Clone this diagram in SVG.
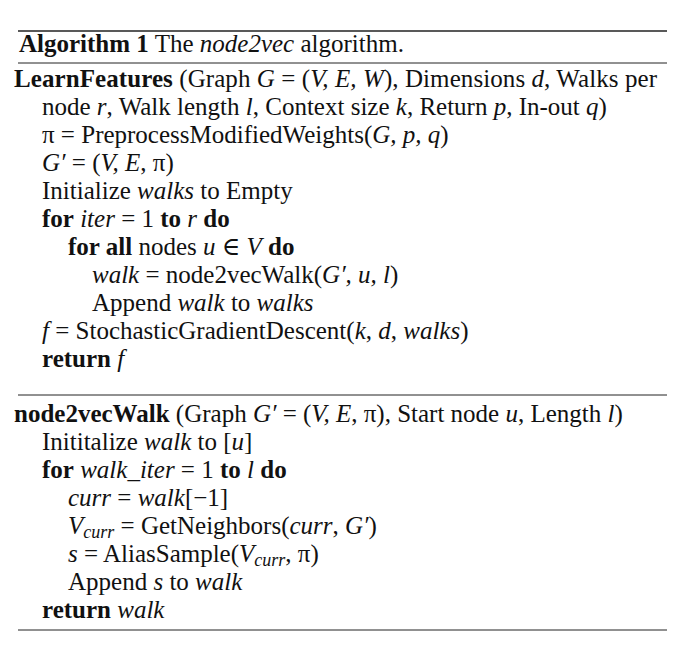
<svg xmlns="http://www.w3.org/2000/svg" width="685" height="659" viewBox="0 0 685 659">
<style>
text{font-family:"Liberation Serif","Times New Roman","DejaVu Serif",serif;font-size:25px;fill:#111}
.b{font-weight:bold}.i{font-style:italic}
line{stroke:#222}
</style>
<rect width="685" height="659" fill="#fff"/>
<line x1="18" y1="31" x2="667" y2="31" stroke-width="1.6"/>
<line x1="18" y1="63" x2="667" y2="63" stroke-width="1"/>
<line x1="18" y1="395" x2="667" y2="395" stroke-width="1"/>
<line x1="18" y1="630" x2="667" y2="630" stroke-width="1"/>
<text x="19" y="52" font-size="22.5"><tspan class="b">Algorithm 1</tspan> The <tspan class="i">node2vec</tspan> algorithm.</text>
<text x="14" y="87" textLength="643" lengthAdjust="spacing"><tspan class="b">LearnFeatures</tspan> (Graph <tspan class="i">G</tspan> = (<tspan class="i">V, E, W</tspan>), Dimensions <tspan class="i">d</tspan>, Walks per</text>
<text x="42" y="115">node <tspan class="i">r</tspan>, Walk length <tspan class="i">l</tspan>, Context size <tspan class="i">k</tspan>, Return <tspan class="i">p</tspan>, In-out <tspan class="i">q</tspan>)</text>
<text x="42" y="143">π = PreprocessModifiedWeights(<tspan class="i">G, p, q</tspan>)</text>
<text x="42" y="171"><tspan class="i">G′</tspan> = (<tspan class="i">V, E</tspan>, π)</text>
<text x="42" y="199">Initialize <tspan class="i">walks</tspan> to Empty</text>
<text x="42" y="227"><tspan class="b">for</tspan> <tspan class="i">iter</tspan> = 1 <tspan class="b">to</tspan> <tspan class="i">r</tspan> <tspan class="b">do</tspan></text>
<text x="68" y="255"><tspan class="b">for all</tspan> nodes <tspan class="i">u</tspan> ∈ <tspan class="i">V</tspan> <tspan class="b">do</tspan></text>
<text x="92" y="283"><tspan class="i">walk</tspan> = node2vecWalk(<tspan class="i">G′, u, l</tspan>)</text>
<text x="92" y="311">Append <tspan class="i">walk</tspan> to <tspan class="i">walks</tspan></text>
<text x="42" y="339"><tspan class="i">f</tspan> = StochasticGradientDescent(<tspan class="i">k</tspan>, <tspan class="i">d</tspan>, <tspan class="i">walks</tspan>)</text>
<text x="42" y="367"><tspan class="b">return</tspan> <tspan class="i">f</tspan></text>
<text x="14" y="422"><tspan class="b">node2vecWalk</tspan> (Graph <tspan class="i">G′</tspan> = (<tspan class="i">V, E</tspan>, π), Start node <tspan class="i">u</tspan>, Length <tspan class="i">l</tspan>)</text>
<text x="42" y="450">Inititalize <tspan class="i">walk</tspan> to [<tspan class="i">u</tspan>]</text>
<text x="42" y="478"><tspan class="b">for</tspan> <tspan class="i">walk_iter</tspan> = 1 <tspan class="b">to</tspan> <tspan class="i">l</tspan> <tspan class="b">do</tspan></text>
<text x="68" y="506"><tspan class="i">curr</tspan> = <tspan class="i">walk</tspan>[−1]</text>
<text x="68" y="534"><tspan class="i">V</tspan><tspan class="i" font-size="18" dy="4">curr</tspan><tspan dy="-4"> = GetNeighbors(</tspan><tspan class="i">curr</tspan>, <tspan class="i">G′</tspan>)</text>
<text x="68" y="562"><tspan class="i">s</tspan> = AliasSample(<tspan class="i">V</tspan><tspan class="i" font-size="18" dy="4">curr</tspan><tspan dy="-4">, π)</tspan></text>
<text x="68" y="590">Append <tspan class="i">s</tspan> to <tspan class="i">walk</tspan></text>
<text x="42" y="618"><tspan class="b">return</tspan> <tspan class="i">walk</tspan></text>
</svg>
